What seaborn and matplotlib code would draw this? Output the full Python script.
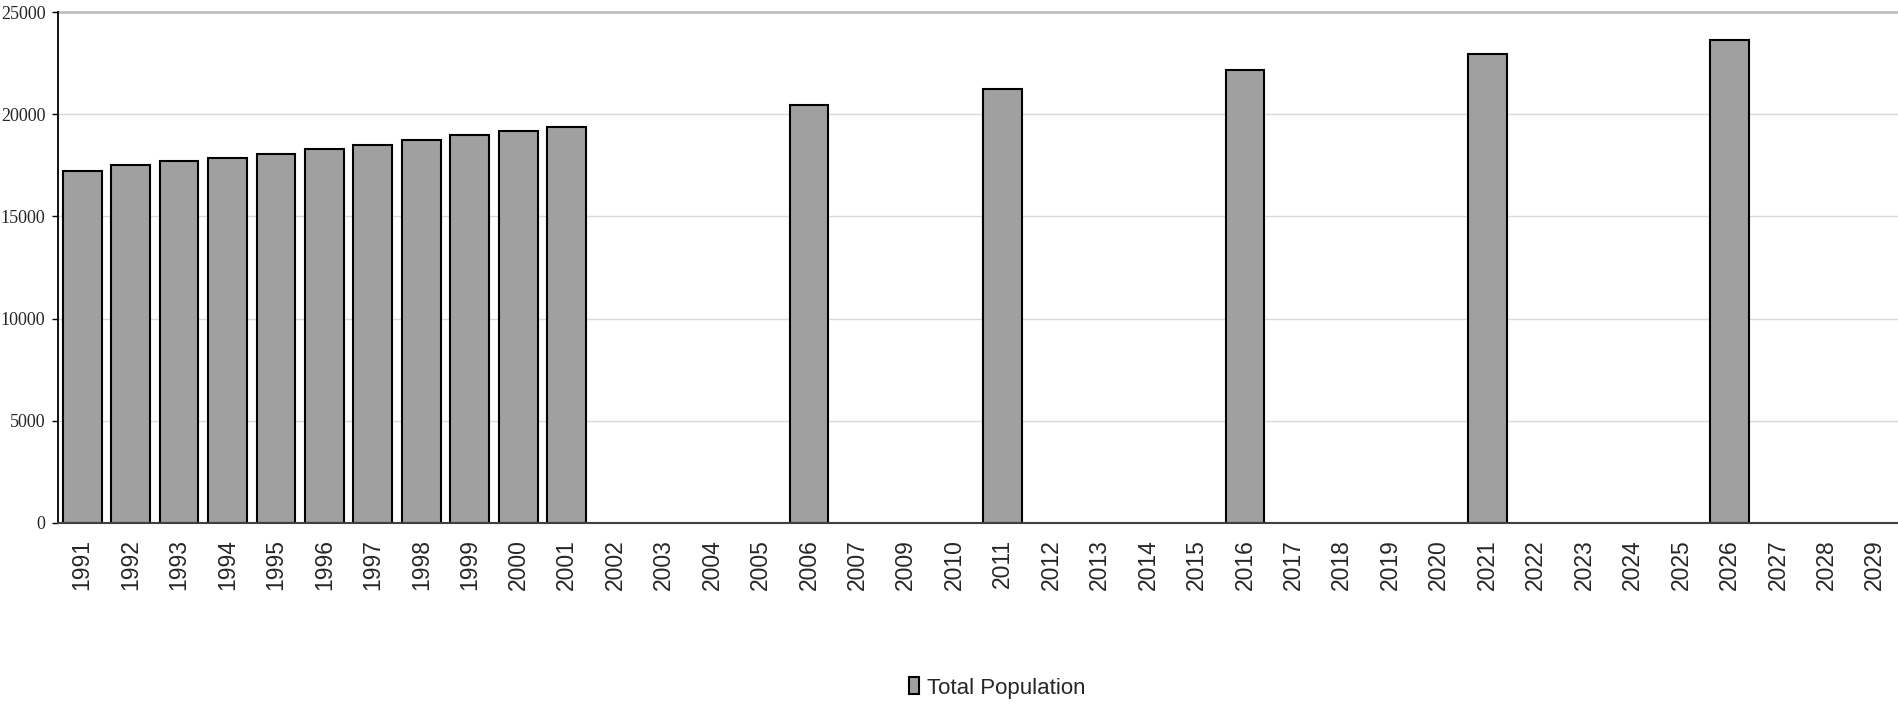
import numpy as np
import pandas as pd
import matplotlib
matplotlib.use("Agg")
import matplotlib.pyplot as plt
import seaborn as sns

# all year slots shown on the axis (2008 is not in the source chart)
categories = [str(y) for y in range(1991, 2008)] + [str(y) for y in range(2009, 2030)]

# years that have a value
years = ["1991", "1992", "1993", "1994", "1995", "1996", "1997", "1998",
         "1999", "2000", "2001", "2006", "2011", "2016", "2021", "2026"]
population = [17240, 17500, 17720, 17840, 18070, 18280, 18500, 18750,
              18970, 19190, 19400, 20440, 21260, 22170, 22950, 23650]

y_ticks = [0, 5000, 10000, 15000, 20000, 25000]
series_name = "Total Population"

df = pd.DataFrame({"year": years, "population": population})

sns.set_style("white")
plt.rcParams["font.family"] = ["Liberation Sans", "DejaVu Sans"]

fig = plt.figure(figsize=(18.99, 7.07), dpi=100)
ax = fig.add_axes([0.0305, 0.2607, 0.9695, 0.7219])

sns.barplot(data=df, x="year", y="population", order=categories,
            color="#A0A0A0", saturation=1, edgecolor="black", linewidth=1.5,
            width=0.8, label=series_name, ax=ax)

ax.set_ylim(0, 25000)
ax.set_xlim(-0.5, len(categories) - 0.5)
ax.set_yticks(y_ticks)
ax.set_yticklabels([str(v) for v in y_ticks], family=["Liberation Serif", "DejaVu Serif"],
                   fontsize=13)

# gridlines
for v in y_ticks[1:-1]:
    ax.axhline(v, color="#D9D9D9", linewidth=1, zorder=0)
ax.axhline(25000, color="#C0C0C0", linewidth=2, zorder=0, clip_on=False)

for s in ["top", "right"]:
    ax.spines[s].set_visible(False)
ax.spines["left"].set_color("black")
ax.spines["left"].set_linewidth(1.3)
ax.spines["bottom"].set_color("#404040")
ax.spines["bottom"].set_linewidth(1.5)

# x ticks sit between categories, labels centred under them
ax.set_xticks(np.arange(len(categories)))
ax.set_xticklabels(categories, rotation=90, fontsize=16.5)
ax.set_xticks(np.arange(len(categories) + 1) - 0.5, minor=True)
ax.tick_params(axis="x", which="major", length=0, pad=12)
ax.tick_params(axis="x", which="minor", length=6, width=1, color="#404040", direction="out")
ax.tick_params(axis="y", length=4, width=1, color="black", direction="out", pad=5, left=True)
ax.set_xlabel("")
ax.set_ylabel("")

leg = ax.legend(loc="center", bbox_to_anchor=(0.525, 0.027), bbox_transform=fig.transFigure,
                frameon=False, handlelength=0.45, handleheight=0.8, handletextpad=0.35,
                prop={"family": ["Liberation Sans", "DejaVu Sans"], "size": 16})

fig.savefig("out.png", dpi=100)
